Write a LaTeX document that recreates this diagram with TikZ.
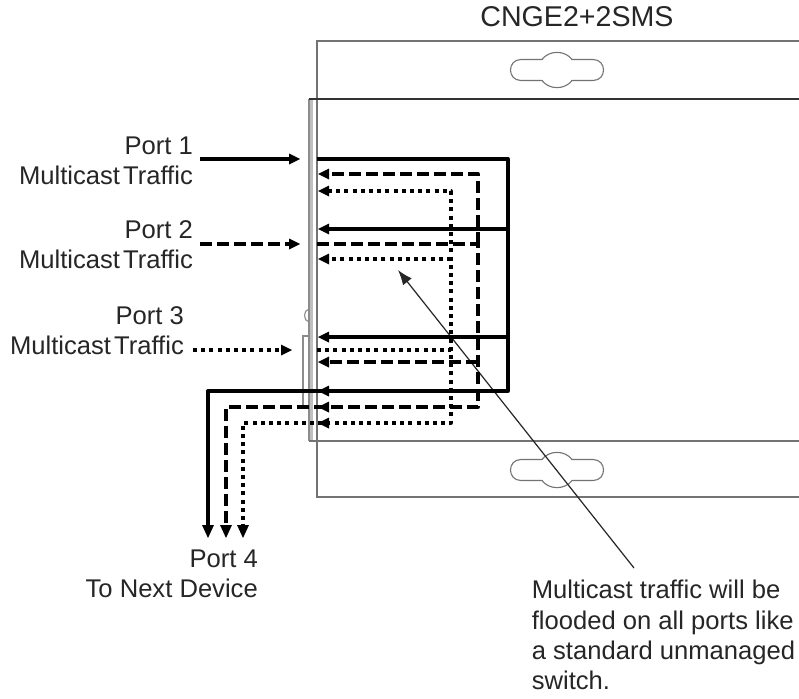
\documentclass[tikz,border=0pt]{standalone}
\usepackage{fontspec}
\setmainfont{Liberation Sans}
\usetikzlibrary{arrows.meta}
\tikzset{
  x=1pt,y=-1pt,
  plate/.style={draw=black!55,line width=1.1pt},
  platedark/.style={draw=black!80,line width=1.2pt},
  strip/.style={draw=black!45,line width=1.1pt},
  solidline/.style={draw=black,line width=3.3pt,line join=round},
  dashline/.style={draw=black,line width=3.3pt,dash pattern=on 12pt off 5pt,line join=round},
  dotline/.style={draw=black,line width=3.3pt,dash pattern=on 4pt off 4.2pt,line join=round},
  lbl/.style={inner sep=0pt,font=\fontsize{25.6}{30.3}\selectfont,text=black!85},
  titlelbl/.style={inner sep=0pt,font=\fontsize{28.6}{30}\selectfont,text=black!85},
  pointer/.style={draw=black!85,line width=1.2pt,-{Latex[length=15pt,width=11pt]}},
  headfill/.style={fill=black},
}
\newcommand{\keyhole}[2]{%
  \draw[plate] (#1-24,#2-10.5) -- (#1-36,#2-10.5)
    .. controls (#1-50,#2-10.5) and (#1-50,#2+10.5) .. (#1-36,#2+10.5) -- (#1-15,#2+10.5)
    .. controls (#1-8,#2+20) and (#1+8,#2+20) .. (#1+15,#2+10.5) -- (#1+36,#2+10.5)
    .. controls (#1+50,#2+10.5) and (#1+50,#2-10.5) .. (#1+36,#2-10.5) -- (#1+15,#2-10.5)
    .. controls (#1+8,#2-20) and (#1-8,#2-20) .. (#1-15,#2-10.5) -- cycle;}
\newcommand{\mtraffic}{Multicast\hspace{3pt}Traffic}
\begin{document}
\begin{tikzpicture}
\useasboundingbox (0,0) rectangle (799,698);
\fill[white] (0,0) rectangle (799,698);
% enclosure
\draw[plate] (799,41) -- (317,41) -- (317,497) -- (799,497);
\fill[black!25] (309,99) rectangle (313,441);
\draw[strip] (309,99) -- (309,441);
\draw[platedark] (799,99) -- (309,99);
\draw[plate] (309,441) -- (799,441);
\draw[strip] (309,309) .. controls (303,310) and (303,321) .. (309,322);
\draw[strip] (309,336) -- (303,336) -- (303,406) -- (309,406);
% keyholes
\keyhole{557}{70}
\keyhole{557}{470}
% coordinates
\coordinate (p1a) at (200,159); \coordinate (p1b) at (300,159);
\coordinate (p2a) at (200,244); \coordinate (p2b) at (300,244);
\coordinate (p3a) at (193,350); \coordinate (p3b) at (292,350);
\coordinate (sIn) at (317,159); \coordinate (sT) at (508,159); \coordinate (sB) at (508,391);
\coordinate (sE) at (208,391); \coordinate (sD) at (208,527);
\coordinate (dIn) at (317,244); \coordinate (dT) at (478,244); \coordinate (dB) at (478,407);
\coordinate (dE) at (226,407); \coordinate (dD) at (226,527);
\coordinate (oIn) at (317,350); \coordinate (oT) at (451,350); \coordinate (oB) at (451,423);
\coordinate (oE) at (243,423); \coordinate (oD) at (243,527);
\coordinate (noteStart) at (634,568); \coordinate (noteEnd) at (398,270);
% diagonal
\draw[pointer] (noteStart) -- (noteEnd);
% solid
\draw[solidline] (p1a) -- (292,159);
\fill[headfill] (p1b) -- ++(-11,-5.5) -- ++(0,11) -- cycle;
\draw[solidline] (sIn) -- (sT) -- (sB) -- (sE) -- (sD);
\draw[solidline] (508,229) -- (325,229);
\draw[solidline] (508,337) -- (325,337);
\foreach \yy in {229,337,391} \fill[headfill] (318,\yy) -- ++(11,-5.5) -- ++(0,11) -- cycle;
% dashed
\draw[dashline] (p2a) -- (290,244);
\fill[headfill] (p2b) -- ++(-11,-5.5) -- ++(0,11) -- cycle;
\draw[dashline] (dIn) -- (dT) -- (dB) -- (dE) -- (dD);
\draw[dashline] (478,244) -- (478,174) -- (328,174);
\draw[dashline] (478,362) -- (328,362);
\foreach \yy in {174,362,407} \fill[headfill] (318,\yy) -- ++(11,-5.5) -- ++(0,11) -- cycle;
% dotted
\draw[dotline] (p3a) -- (283,350);
\fill[headfill] (p3b) -- ++(-11,-5.5) -- ++(0,11) -- cycle;
\draw[dotline] (oIn) -- (oT);
\draw[dotline] (328,191) -- (451,191) -- (oB) -- (oE) -- (oD);
\draw[dotline] (451,259) -- (328,259);
\foreach \yy in {191,259,423} \fill[headfill] (318,\yy) -- ++(11,-5.5) -- ++(0,11) -- cycle;
% down arrowheads
\fill[headfill] (sD) ++(-6,-2) -- ++(12,0) -- ++(-6,13) -- cycle;
\fill[headfill] (dD) ++(-6,-2) -- ++(12,0) -- ++(-6,13) -- cycle;
\fill[headfill] (oD) ++(-6,-2) -- ++(12,0) -- ++(-6,13) -- cycle;
% labels
\node[titlelbl,anchor=center] (title) at (577,17) {CNGE2+2SMS};
\node[lbl,anchor=east,align=right] (l1) at (193,161) {Port 1\hspace{8pt}\\\mtraffic};
\node[lbl,anchor=east,align=right] (l2) at (193,245) {Port 2\hspace{8pt}\\\mtraffic};
\node[lbl,anchor=east,align=right] (l3) at (184,331) {Port 3\hspace{6pt}\\\mtraffic};
\node[lbl,anchor=east,align=right] (l4) at (258,574) {Port 4\hspace{6pt}\\To Next Device};
\node[lbl,anchor=center,align=left] (note) at (663.5,635) {Multicast traffic will be\\flooded on all ports like\\a standard unmanaged\\switch.};
\end{tikzpicture}
\end{document}
